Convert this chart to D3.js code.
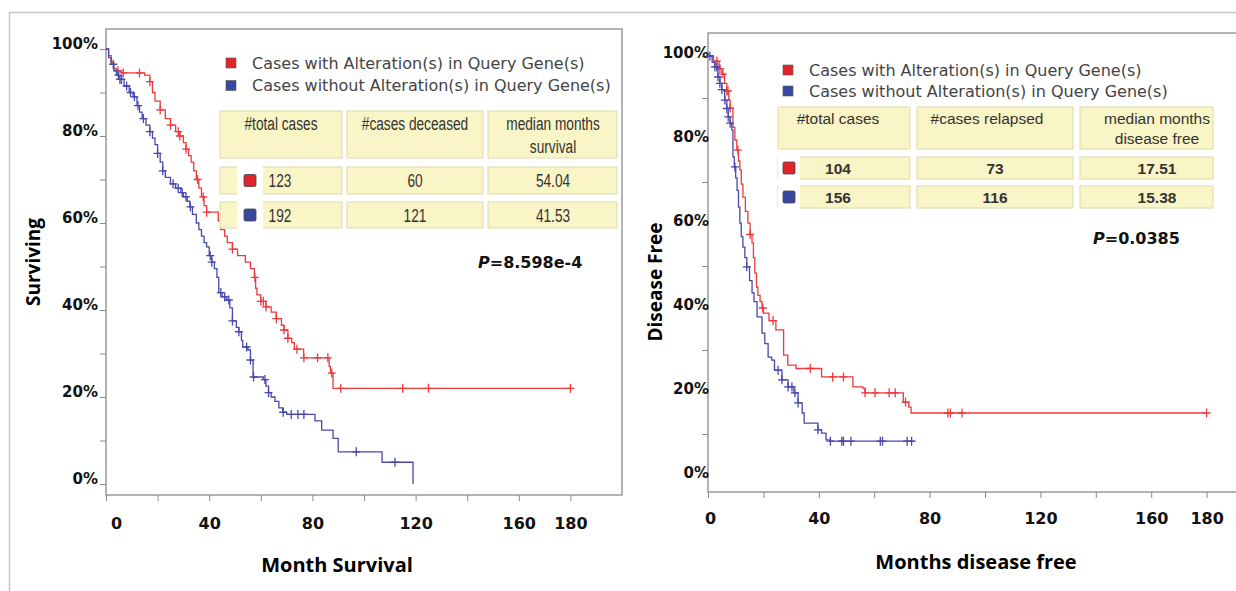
<!DOCTYPE html>
<html>
<head>
<meta charset="utf-8">
<script src="https://cdn.jsdelivr.net/npm/d3@7"></script>
<style>
  body { margin: 0; background: #fff; }
  svg { display: block; }
  .tick line { stroke: #8a8a8a; }
  .ylab text, .xlab text { font-family: "DejaVu Sans", sans-serif; font-weight: bold; fill: #111; }
</style>
</head>
<body>
<script>
// ---- data ----
const monthLabels = [0, 40, 80, 120, 160, 180];
const pctLabels = [0, 20, 40, 60, 80, 100];
const legendLabels = ["Cases with Alteration(s) in Query Gene(s)", "Cases without Alteration(s) in Query Gene(s)"];

// overall survival: [month, % surviving]
const osAltered = [[0,100],[1,98.5],[2,97],[3,95.5],[4,95],[6,94.5],[15,94],[17,92.5],[18,90],[19,88],[21,86],[23,84],[25,82.5],[27,81],[28.6,80],[30,78.5],[31,77],[32,75.5],[33,74],[34,72],[35,70],[36,68],[37,66],[38,64],[39,62.5],[43.5,60.5],[44.5,58.5],[46,57],[47,55.5],[49,54],[51,52.5],[54,51],[56,49.5],[57.5,47.5],[58,45],[58.5,43.5],[60,42],[62,40.7],[64,39.5],[66,38],[68,36.5],[69,35.4],[70.5,33.5],[72,32.5],[73,31],[76.6,29],[86.5,27],[87,25.5],[88,22],[180,22]];
const osAlteredCensor = [4.6,6.7,13,17,21,25,28,28.6,31,35.5,37.7,39,49,57.7,60,61,62,66,69,70.5,74,76.7,82,86,87.5,91,115,125,180];
const osUnaltered = [[0,100],[1,98],[2,96.5],[3,95],[4,94],[5,93],[7,91.5],[9,90],[10.5,89],[12,87],[13,85.5],[14,84],[15.5,82.5],[17,81],[18,79.5],[19,78],[20,76],[21,74],[22,72],[23,70.5],[25,69],[27,68],[29,67],[30,66],[31.5,65],[32.5,63.7],[33.5,62],[35,60],[36,58.5],[37,57],[38,55.5],[39,54.5],[40,52.5],[41,51],[42,49.5],[43,47.5],[43.7,44],[45,43],[46.8,42.3],[48,40.5],[49,37.5],[50.5,36],[51.5,35],[52.5,33],[53,31.5],[55,30.8],[56,28.5],[57,24.6],[61,24],[62,22.5],[63,21],[64,20],[65.5,19],[67,17.5],[68.5,16.5],[70,16],[81,14.5],[83.6,12.4],[88,10.5],[90,7.4],[107,5],[119,0]];
const osUnalteredCensor = [2.8,4.8,5.4,6,8,9.5,11,12.4,14.5,17,20,22,26,28,29.5,31,32.7,40.4,41,44.5,46,47.6,49,51.5,54.5,56,57.2,61.6,63,68.7,71.8,74.4,76.7,97,112];

// disease free: [month, % disease free]
const dfsAltered = [[0,100],[2,98.8],[4,97],[5,95.7],[6,93.5],[6.8,91.7],[7.5,89.5],[8,87.6],[9,83],[9.7,80],[10.4,77.6],[11,75],[11.5,72.9],[12,69.5],[12.6,66.4],[13.5,63],[14.4,60.2],[15.2,57.5],[15.9,55.5],[16.4,52],[16.9,48.3],[17.5,45],[18,43],[18.8,41.5],[19.5,40],[20,38.8],[22,37],[24.5,34.8],[27.3,28.8],[28.8,26.4],[31.8,25.6],[41,23.6],[52.3,21.2],[55.9,20.9],[56.7,19.8],[70.5,17.6],[72.5,16.4],[73.3,15],[180,15]];
const dfsAlteredCensor = [3.2,4.3,5.4,6.8,7.2,8,10.8,15.2,19.8,23.5,36.9,45,48.9,56.7,60.3,65.4,67.6,71.3,86.6,87.5,91.7,180];
const dfsUnaltered = [[0,100],[1.5,98.5],[2.5,97.4],[3.6,95],[4.3,93.5],[5,92],[6,89.5],[6.8,87.5],[7.3,85.5],[8,84],[8.6,82.4],[9,76],[9.5,73.6],[10,71],[10.5,68],[11,64],[11.5,60.2],[12,57],[12.6,54.5],[13.3,52],[14,49.8],[15,46.5],[15.9,43.6],[16.6,41.5],[17.7,37.9],[19.5,34],[20.5,31.5],[21.7,28.3],[23,27.6],[24,25.2],[26.7,22.9],[28.9,21.2],[31,19.8],[32.5,17.4],[34,15],[34.7,12.6],[39.7,11],[41,10.2],[42.6,8.6],[44,8.3],[74.5,8.3]];
const dfsUnalteredCensor = [0.7,2.5,3.2,3.6,4.3,5,6.1,6.8,7.3,8,9.7,14,25.3,26.7,28.9,30.3,31.4,32.5,39.7,44.2,48.3,48.9,51.6,62.2,63,71.9,73.5];

const osHeader = [["#total cases"], ["#cases deceased"], ["median months", "survival"]];
const osRows = [["123", "60", "54.04"], ["192", "121", "41.53"]];
const osP = "=8.598e-4";
const dfsHeader = [["#total cases"], ["#cases relapsed"], ["median months", "disease free"]];
const dfsRows = [["104", "73", "17.51"], ["156", "116", "15.38"]];
const dfsP = "=0.0385";

const red = "#ec3a3d", blue = "#4848aa";
const redBox = "#e0242a", blueBox = "#3848a0";

const svg = d3.select("body").append("svg").attr("width", 1236).attr("height", 591);

// outer frame
svg.append("rect")
   .attr("x", 9.5).attr("y", 12.5).attr("width", 1240).attr("height", 600)
   .attr("fill", "none").attr("stroke", "#c6c6c6").attr("stroke-width", 1.5);

function drawPanel(c) {
   const x = d3.scaleLinear().domain([0, 200]).range([c.left, c.right]);
   const y = d3.scaleLinear().domain([0, 100]).range([c.y0, c.y100]);
   const g = svg.append("g");

   // plot box
   g.append("rect")
    .attr("x", c.left).attr("y", c.boxTop)
    .attr("width", c.right - c.left).attr("height", c.boxBot - c.boxTop)
    .attr("fill", "none").attr("stroke", "#9a9a9a").attr("stroke-width", 1.5);

   // y axis
   const ya = g.append("g").attr("class", "ylab")
    .attr("transform", `translate(${c.left},0)`)
    .call(d3.axisLeft(y).tickValues(d3.range(0, 101, 10)).tickSize(6)
      .tickFormat(d => pctLabels.includes(d) ? d + "%" : ""));
   ya.select(".domain").remove();
   ya.selectAll("text").attr("x", c.ylabX).attr("dy", c.ylabDy).style("font-size", "15px");

   // x axis
   const xa = g.append("g").attr("class", "xlab")
    .attr("transform", `translate(0,${c.boxBot})`)
    .call(d3.axisBottom(x).tickValues(d3.range(0, 181, 20)).tickSize(6)
      .tickFormat(d => monthLabels.includes(d) ? d : ""));
   xa.select(".domain").remove();
   xa.selectAll("text").attr("y", c.xlabY).style("font-size", "16px")
     .attr("dx", d => d === 0 ? c.zeroDx : 0);

   // axis titles
   g.append("text")
    .attr("transform", `translate(${c.ytitleX},${c.ytitleY}) rotate(-90)`)
    .attr("text-anchor", "middle")
    .style("font-family", "'Open Sans', sans-serif").style("font-weight", 700).style("font-size", "19px")
    .text(c.ytitle);
   g.append("text")
    .attr("x", c.xtitleX).attr("y", c.xtitleY)
    .attr("text-anchor", "middle")
    .style("font-family", "'Open Sans', sans-serif").style("font-weight", 700).style("font-size", "20px")
    .text(c.xtitle);

   // curves + censor marks
   const line = d3.line().x(d => x(d[0])).y(d => y(d[1])).curve(d3.curveStepAfter);
   const bis = d3.bisector(d => d[0]).right;
   const survAt = (curve, t) => curve[Math.max(0, bis(curve, t) - 1)][1];
   c.series.forEach(s => {
      g.append("path").datum(s.curve)
       .attr("d", line).attr("fill", "none")
       .attr("stroke", s.color).attr("stroke-width", 1.3);
      g.selectAll(null).data(s.censor).join("path")
       .attr("transform", t => `translate(${x(t)},${y(survAt(s.curve, t))})`)
       .attr("d", "M-4,0H4M0,-4.5V4.5")
       .attr("stroke", s.color).attr("stroke-width", 1.3);
   });

   // legend
   const lg = g.append("g").style("font-family", "'DejaVu Sans', sans-serif").style("font-size", "16px");
   legendLabels.forEach((lab, i) => {
      const cy = c.legY + i * c.legStep;
      lg.append("rect").attr("x", c.legX - 5).attr("y", cy - 5).attr("width", 10).attr("height", 10)
        .attr("fill", i ? blueBox : redBox).attr("stroke", "#555").attr("stroke-width", 0.6);
      lg.append("text").attr("x", c.legX + 21).attr("y", cy).attr("dy", "0.36em")
        .attr("fill", "#444").text(lab);
   });

   // table
   const tb = g.append("g").style("font-family", "'Liberation Sans', Arial, sans-serif")
    .style("font-size", c.tableSize).attr("fill", "#333");
   const cellText = (tx, ty, s, weight) => tb.append("text")
      .attr("transform", `translate(${tx},${ty}) scale(${c.squeeze},1)`)
      .attr("dy", "0.36em").attr("text-anchor", "middle").style("font-weight", weight).text(s);
   c.cols.forEach((col, j) => {
      tb.append("rect").attr("x", col[0]).attr("y", c.headRow[0])
        .attr("width", col[1] - col[0]).attr("height", c.headRow[1] - c.headRow[0])
        .attr("fill", "#f9f5c6").attr("stroke", "#dedaac");
      c.header[j].forEach((h, k) => cellText(c.headX[j], c.headY + k * c.headStep, h, "normal"));
   });
   c.rows.forEach((row, i) => {
      const r = c.bodyRows[i];
      c.cols.forEach(col => {
         tb.append("rect").attr("x", col[0]).attr("y", r[0])
           .attr("width", col[1] - col[0]).attr("height", r[1] - r[0])
           .attr("fill", "#f9f5c6").attr("stroke", "#dedaac");
      });
      tb.append("rect").attr("x", c.swatch[0]).attr("y", r[0] - 1)
        .attr("width", c.swatch[1] - c.swatch[0]).attr("height", r[1] - r[0] + 2).attr("fill", "#fff");
      const sc = (c.swatch[0] + c.swatch[1]) / 2, sm = (r[0] + r[1]) / 2;
      tb.append("rect").attr("x", sc - 6).attr("y", sm - 6).attr("width", 12).attr("height", 12).attr("rx", 1.5)
        .attr("fill", i ? blueBox : redBox).attr("stroke", "#444").attr("stroke-width", 0.8);
      row.forEach((v, j) => cellText(c.valX[j], sm, v, c.valWeight));
   });

   // p value
   const pt = g.append("text").attr("x", c.pX).attr("y", c.pY).attr("dy", "0.36em")
    .style("font-family", "'DejaVu Sans', sans-serif").style("font-weight", "bold").style("font-size", "16px")
    .attr("fill", "#111");
   pt.append("tspan").style("font-style", "italic").text("P");
   pt.append("tspan").text(c.pText);
}

drawPanel({
   left: 106, right: 622, y0: 484, y100: 49, boxTop: 29, boxBot: 495,
   ylabX: -8, ylabDy: "-0.02em", xlabY: 23, zeroDx: 10,
   ytitle: "Surviving", ytitleX: 40, ytitleY: 262,
   xtitle: "Month Survival", xtitleX: 337, xtitleY: 572,
   series: [
      { curve: osAltered, censor: osAlteredCensor, color: red },
      { curve: osUnaltered, censor: osUnalteredCensor, color: blue }
   ],
   legX: 231, legY: 63, legStep: 22.5,
   tableSize: "19px", squeeze: 0.72, valWeight: "normal",
   cols: [[220, 342], [347, 483], [488, 617]],
   headRow: [111, 158], headX: [281, 415, 553], headY: 123, headStep: 23,
   header: osHeader,
   bodyRows: [[167, 194], [202, 228]], swatch: [237, 263],
   valX: [280, 415, 553], rows: osRows,
   pX: 478, pY: 262, pText: osP
});

drawPanel({
   left: 708, right: 1262, y0: 476, y100: 56, boxTop: 33, boxBot: 492,
   ylabX: 1, ylabDy: "0.1em", xlabY: 21, zeroDx: 2,
   ytitle: "Disease Free", ytitleX: 662, ytitleY: 282,
   xtitle: "Months disease free", xtitleX: 976, xtitleY: 569,
   series: [
      { curve: dfsAltered, censor: dfsAlteredCensor, color: red },
      { curve: dfsUnaltered, censor: dfsUnalteredCensor, color: blue }
   ],
   legX: 788, legY: 70, legStep: 21,
   tableSize: "15.5px", squeeze: 1, valWeight: "bold",
   cols: [[778, 910], [917, 1073], [1080, 1213]],
   headRow: [107, 149], headX: [838, 987, 1157], headY: 118, headStep: 20,
   header: dfsHeader,
   bodyRows: [[157, 179], [186, 208]], swatch: [778, 800],
   valX: [838, 995, 1157], rows: dfsRows,
   pX: 1093, pY: 238, pText: dfsP
});
</script>
</body>
</html>
